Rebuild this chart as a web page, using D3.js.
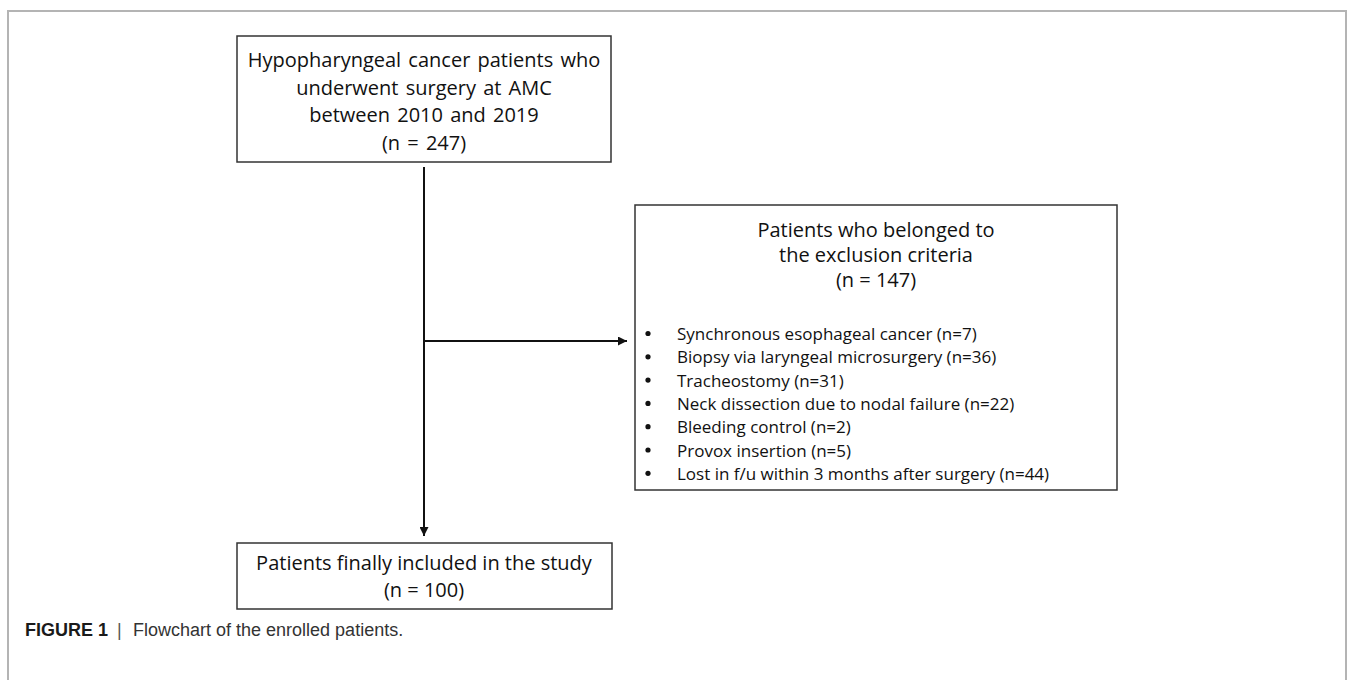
<!DOCTYPE html>
<html>
<head>
<meta charset="utf-8">
<script src="https://cdn.jsdelivr.net/npm/d3@7"></script>
<style>
  body { margin: 0; background: #fff; }
  svg { display: block; }
  .box-text { font-family: "Open Sans", sans-serif; fill: #111; }
  .caption { font-family: "Liberation Sans", Arial, sans-serif; }
</style>
</head>
<body>
<svg width="1347" height="680"></svg>
<script>
// --- Data ---
const totalN = 247;
const excludedN = 147;
const includedN = 100;
const sourceLines = ['Hypopharyngeal cancer patients who', 'underwent surgery at AMC', 'between 2010 and 2019', `(n = ${totalN})`];
const exclusionTitle = ['Patients who belonged to', 'the exclusion criteria', `(n = ${excludedN})`];
const exclusionReasons = ['Synchronous esophageal cancer', 'Biopsy via laryngeal microsurgery', 'Tracheostomy', 'Neck dissection due to nodal failure', 'Bleeding control', 'Provox insertion', 'Lost in f/u within 3 months after surgery'];
const exclusionCounts = [7, 36, 31, 22, 2, 5, 44];
const includedLines = ['Patients finally included in the study', `(n = ${includedN})`];

(() => {
  const svg = d3.select('svg');

  svg.append('defs').append('marker')
    .attr('id', 'arrow')
    .attr('viewBox', '0 0 10 10')
    .attr('refX', 10).attr('refY', 5)
    .attr('markerWidth', 4.5).attr('markerHeight', 4.5)
    .attr('orient', 'auto')
    .append('path')
    .attr('d', 'M0,0 L10,5 L0,10 Z')
    .attr('fill', '#111');

  // --- Outer frame (bottom runs off the page) ---
  svg.append('path')
    .attr('d', 'M8,700 L8,11 L1346,11 L1346,700')
    .attr('fill', 'none')
    .attr('stroke', '#b4b4b4')
    .attr('stroke-width', 2);

  // --- Boxes ---
  const drawBox = (x, y, w, h) => svg.append('rect')
    .attr('x', x).attr('y', y).attr('width', w).attr('height', h)
    .attr('fill', '#fff').attr('stroke', '#333').attr('stroke-width', 1.5);

  const cx = 424;

  // top box
  drawBox(237, 36, 374, 126);
  svg.selectAll('.src').data(sourceLines).join('text')
    .attr('class', 'box-text src')
    .attr('x', cx)
    .attr('y', (d, i) => 67 + i * 27.5)
    .attr('text-anchor', 'middle')
    .attr('font-size', 20)
    .attr('word-spacing', 2)
    .text(d => d);

  // exclusion box
  const ex = { x: 635, y: 205, w: 482, h: 285 };
  drawBox(ex.x, ex.y, ex.w, ex.h);
  svg.selectAll('.exc-title').data(exclusionTitle).join('text')
    .attr('class', 'box-text exc-title')
    .attr('x', ex.x + ex.w / 2)
    .attr('y', (d, i) => 237 + i * 25)
    .attr('text-anchor', 'middle')
    .attr('font-size', 20)
    .text(d => d);

  const reasons = exclusionReasons.map((r, i) => ({ label: r, n: exclusionCounts[i] }));
  const rows = svg.selectAll('.reason').data(reasons).join('g')
    .attr('class', 'reason')
    .attr('transform', (d, i) => `translate(0,${340 + i * 23.3})`);
  rows.append('circle')
    .attr('cx', 648)
    .attr('cy', -6.5)
    .attr('r', 2.6)
    .attr('fill', '#111');
  rows.append('text')
    .attr('class', 'box-text')
    .attr('x', 677)
    .attr('font-size', 17)
    .text(d => `${d.label} (n=${d.n})`);

  // included box
  drawBox(237, 543, 375, 66);
  svg.selectAll('.inc').data(includedLines).join('text')
    .attr('class', 'box-text inc')
    .attr('x', cx)
    .attr('y', (d, i) => 570 + i * 27)
    .attr('text-anchor', 'middle')
    .attr('font-size', 20)
    .text(d => d);

  // --- Connectors ---
  svg.append('line')
    .attr('x1', cx).attr('y1', 167)
    .attr('x2', cx).attr('y2', 536)
    .attr('stroke', '#111').attr('stroke-width', 2)
    .attr('marker-end', 'url(#arrow)');
  svg.append('line')
    .attr('x1', cx).attr('y1', 341)
    .attr('x2', 627).attr('y2', 341)
    .attr('stroke', '#111').attr('stroke-width', 2)
    .attr('marker-end', 'url(#arrow)');

  // --- Caption ---
  const cap = svg.append('text')
    .attr('class', 'caption')
    .attr('y', 636)
    .attr('font-size', 18);
  cap.append('tspan').attr('x', 25).attr('font-weight', 'bold').attr('fill', '#1a1a1a').text('FIGURE 1');
  cap.append('tspan').attr('x', 117).attr('fill', '#555').text('|');
  cap.append('tspan').attr('x', 133).attr('fill', '#333').text('Flowchart of the enrolled patients.');
})();
</script>
</body>
</html>
